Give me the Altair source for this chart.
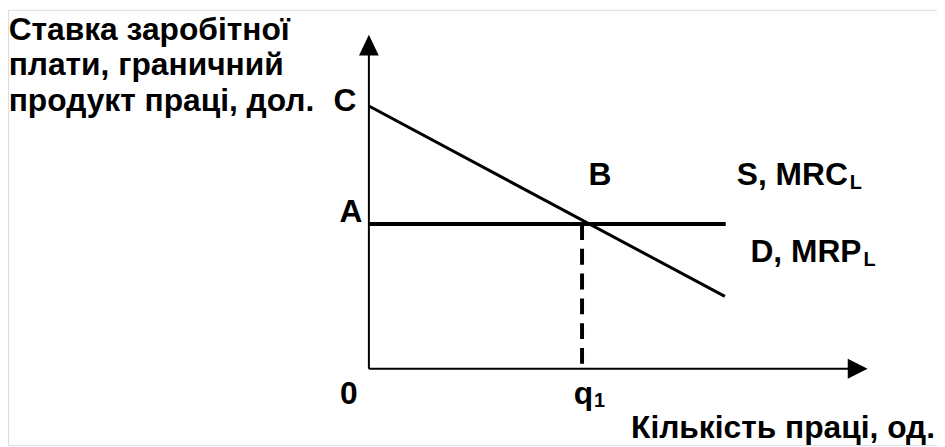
import altair as alt
import pandas as pd

# ---- economic values (data units: quantity of labour, wage in $) ----
q_one = 5.0              # equilibrium quantity q1
wage_A = 10.0            # wage rate A = S, MRC_L
demand_q = [0.0, 8.35]   # D, MRP_L line: quantities
demand_w = [18.15, 5.0]  # D, MRP_L line: wages (starts at C)
supply_q = [0.0, 8.37]   # S, MRC_L line: quantities
supply_w = [10.0, 10.0]  # S, MRC_L line: wages
x_axis_len = 11.3
y_axis_len = 21.9

# ---- annotation text ----
letters = ["C", "A", "B", "0", "q"]
letters_x = [-0.56, -0.42, 5.42, -0.47, 5.03]
letters_y = [17.81, 10.14, 12.67, -2.40, -2.40]

curve_labels = ["S, MRC", "D, MRP"]
curve_labels_x = [8.63, 8.95]
curve_labels_y = [12.67, 7.40]

subs = ["L", "L", "1"]
subs_x = [11.28, 11.60, 5.28]
subs_y = [12.40, 7.13, -2.67]

y_title = ["Ставка заробітної", "плати, граничний", "продукт праці, дол."]
y_title_x = [-8.45, -8.45, -8.45]
y_title_y = [22.74, 20.27, 17.81]

x_title = ["Кількість праці, од."]
x_title_x = [13.28]
x_title_y = [-4.79]

X_DOMAIN = [-8.465, 13.326]
Y_DOMAIN = [-5.274, 24.795]

xs = alt.Scale(domain=X_DOMAIN, nice=False, zero=False)
ys = alt.Scale(domain=Y_DOMAIN, nice=False, zero=False)
X = alt.X("x:Q", scale=xs, axis=None)
Y = alt.Y("y:Q", scale=ys, axis=None)

FONT = "Liberation Sans"

demand = alt.Chart(pd.DataFrame({"x": demand_q, "y": demand_w})).mark_line(
    color="black", strokeWidth=3).encode(x=X, y=Y)
supply = alt.Chart(pd.DataFrame({"x": supply_q, "y": supply_w})).mark_line(
    color="black", strokeWidth=4).encode(x=X, y=Y)
dashed = alt.Chart(pd.DataFrame({"x": [q_one], "y": [wage_A], "y2": [0.0]})).mark_rule(
    color="black", strokeWidth=4, strokeDash=[16, 9]).encode(x=X, y=Y, y2="y2:Q")

axes = alt.Chart(pd.DataFrame({
    "x": [0.0, 0.0], "x2": [0.0, x_axis_len],
    "y": [0.0, 0.0], "y2": [y_axis_len, 0.0]})).mark_rule(
    color="black", strokeWidth=2).encode(x=X, x2="x2:Q", y=Y, y2="y2:Q")

arrow_up = alt.Chart(pd.DataFrame({"x": [0.0], "y": [22.36]})).mark_point(
    shape="M0,-1L-0.95,1L0.95,1Z", size=441, filled=True, color="black", opacity=1,
    strokeWidth=0).encode(x=X, y=Y)
arrow_right = alt.Chart(pd.DataFrame({"x": [11.465], "y": [0.0]})).mark_point(
    shape="M1,0L-1,-1L-1,1Z", size=400, filled=True, color="black", opacity=1,
    strokeWidth=0).encode(x=X, y=Y)

def text_layer(labels, lx, ly, align, size):
    df = pd.DataFrame({"x": lx, "y": ly, "t": labels})
    return alt.Chart(df).mark_text(
        align=align, baseline="alphabetic", font=FONT, fontWeight="bold",
        fontSize=size, color="black").encode(x=X, y=Y, text="t:N")

t_letters = text_layer(letters, letters_x, letters_y, "center", 32)
t_curves = text_layer(curve_labels, curve_labels_x, curve_labels_y, "left", 32)
t_subs = text_layer(subs, subs_x, subs_y, "left", 20)
t_ytitle = text_layer(y_title, y_title_x, y_title_y, "left", 32)
t_xtitle = text_layer(x_title, x_title_x, x_title_y, "right", 32)

chart = alt.layer(
    axes, arrow_up, arrow_right, supply, demand, dashed,
    t_letters, t_curves, t_subs, t_ytitle, t_xtitle
).properties(
    width=937, height=439, padding=0,
    autosize=alt.AutoSizeParams(type="none")
).configure_view(stroke="transparent", strokeWidth=0).configure(background="white")

chart.save("out.html", embed_options={"renderer": "svg", "actions": False})
